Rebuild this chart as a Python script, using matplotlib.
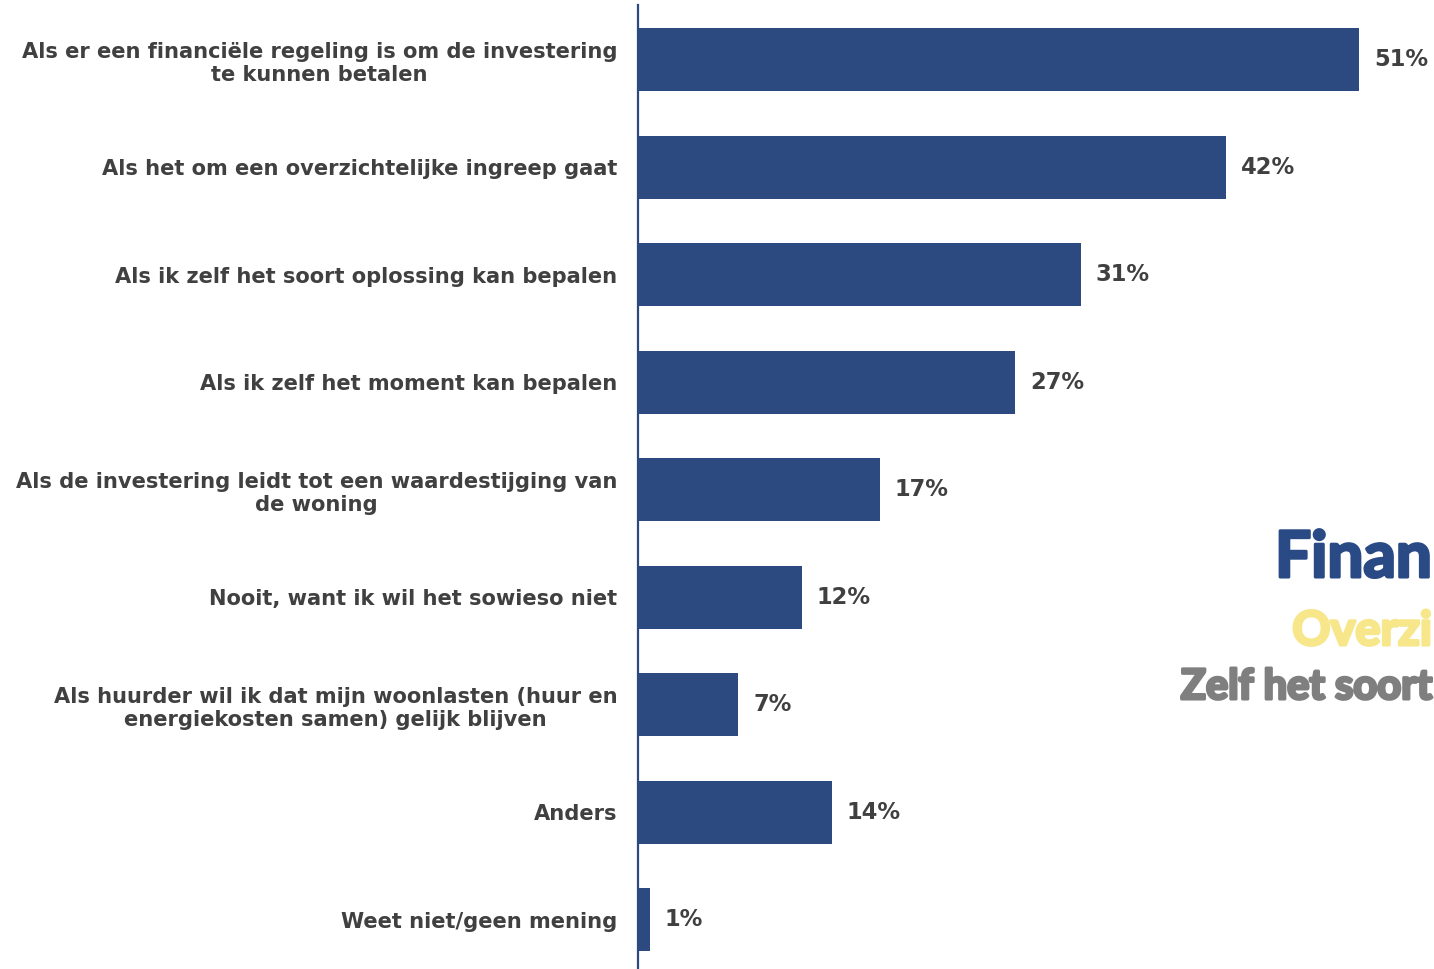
import matplotlib.pyplot as plt
import matplotlib.patheffects as pe

categories = [
    "Als er een financiële regeling is om de investering\nte kunnen betalen",
    "Als het om een overzichtelijke ingreep gaat",
    "Als ik zelf het soort oplossing kan bepalen",
    "Als ik zelf het moment kan bepalen",
    "Als de investering leidt tot een waardestijging van\nde woning",
    "Nooit, want ik wil het sowieso niet",
    "Als huurder wil ik dat mijn woonlasten (huur en\nenergiekosten samen) gelijk blijven",
    "Anders",
    "Weet niet/geen mening",
]
# bar lengths; the labels show them rounded
values = [51.0, 41.6, 31.3, 26.7, 17.1, 11.6, 7.1, 13.7, 0.85]

# word cloud fragments visible at the right edge
cloud_words = ["Finan", "Overzi", "Zelf het soort"]

navy = '#2C4A7F'
grey = '#404040'

fig = plt.figure(figsize=(14.34, 9.69), dpi=100)
ax = fig.add_axes([638 / 1434, 0, 1 - 638 / 1434, 1 - 5 / 969])

pos = list(range(len(values)))
ax.barh(pos, values, height=0.586, color=navy)
ax.set_ylim(8.46, -0.507)
ax.set_xlim(0, 56.3)

for p, v in zip(pos, values):
    ax.text(v + 1.05, p, f"{v:.0f}%", va='center', ha='left',
            fontsize=16.3, fontweight='bold', color=grey)

ax.set_yticks(pos)
ax.set_yticklabels(categories, fontsize=15.15, fontweight='bold', color=grey,
                   multialignment='center')
ax.tick_params(axis='y', length=0, pad=15)
ax.set_xticks([])
for s in ['top', 'right', 'bottom']:
    ax.spines[s].set_visible(False)
ax.spines['left'].set_color(navy)
ax.spines['left'].set_linewidth(1.6)

### word cloud pieces, right aligned on the figure edge ###
cloud_style = [
    (577, 46, '#2A4A86'),
    (645, 34, '#F7E68A'),
    (699, 30, '#7F7F7F'),
]
for w, (ybase, size, col) in zip(cloud_words, cloud_style):
    t = fig.text(1432 / 1434, 1 - ybase / 969, w, fontsize=size,
                 fontweight='bold', color=col, ha='right', va='baseline',
                 family='Lato')
    t.set_path_effects([pe.withStroke(linewidth=2.2, foreground=col)])

fig.savefig('out.png', dpi=100)
